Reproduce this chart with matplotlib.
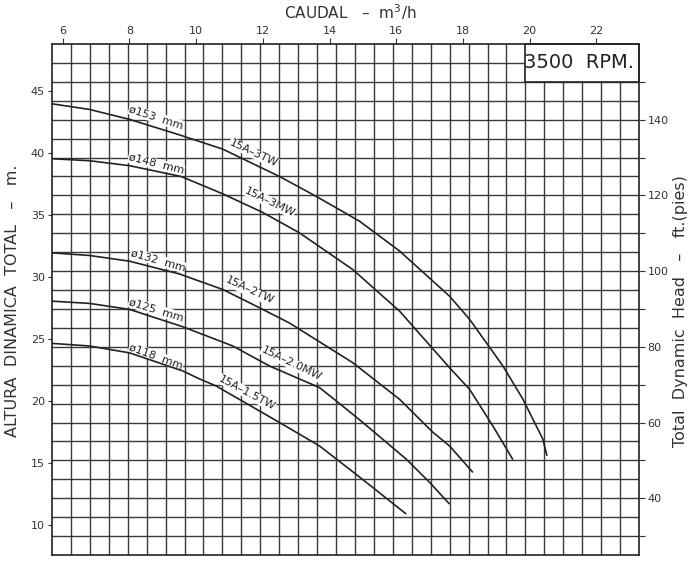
import numpy as np
import matplotlib
matplotlib.use("Agg")
import matplotlib.pyplot as plt
from matplotlib.patches import Rectangle

plt.rcParams['font.family'] = ['DejaVu Sans']

# pump curves: flow (m3/h) vs head (m)
q_153 = [5.68, 6.8, 8.0, 9.5, 10.8, 12.5, 13.6, 14.9, 16.1, 17.6, 18.2, 19.2, 19.8, 20.4, 20.52]
h_153 = [43.95, 43.5, 42.7, 41.45, 40.3, 38.1, 36.5, 34.5, 32.1, 28.46, 26.6, 22.84, 20.16, 16.94, 15.6]

q_148 = [5.68, 6.8, 8.0, 9.55, 10.8, 12.0, 13.1, 14.7, 16.1, 17.6, 18.2, 18.9, 19.5]
h_148 = [39.53, 39.37, 38.97, 38.1, 36.7, 35.2, 33.56, 30.6, 27.26, 22.7, 20.96, 18.0, 15.3]

q_132 = [5.68, 6.8, 8.0, 9.5, 10.8, 11.9, 12.8, 14.7, 16.1, 17.1, 17.6, 18.3]
h_132 = [31.95, 31.74, 31.28, 30.25, 29.0, 27.53, 26.3, 23.1, 20.16, 17.5, 16.4, 14.27]

q_125 = [5.68, 6.8, 8.0, 9.6, 11.1, 12.2, 13.7, 14.2, 15.0, 16.3, 17.0, 17.6]
h_125 = [28.06, 27.88, 27.4, 26.0, 24.45, 22.84, 21.1, 20.03, 18.29, 15.34, 13.47, 11.72]

q_118 = [5.68, 6.8, 8.0, 9.6, 10.1, 10.6, 12.5, 13.7, 14.9, 16.3]
h_118 = [24.66, 24.45, 23.9, 22.44, 21.8, 21.23, 18.29, 16.4, 13.9, 10.92]

curves = [(q_153, h_153), (q_148, h_148), (q_132, h_132), (q_125, h_125), (q_118, h_118)]

# labels: text, flow, head, angle
imp_labels = ['ø153  mm', 'ø148  mm', 'ø132  mm', 'ø125  mm', 'ø118  mm']
imp_pos = [(8.80, 42.85, -18), (8.80, 39.1, -14), (8.85, 31.35, -16),
           (8.80, 27.35, -17), (8.80, 23.6, -20)]
model_labels = ['15A–3TW', '15A–3MW', '15A–2TW', '15A–2.0MW', '15A–1.5TW']
model_pos = [(11.72, 40.0, -25), (12.2, 36.05, -26), (11.6, 28.9, -25),
             (12.85, 23.05, -26), (11.52, 20.7, -28)]

GPM = 0.2271247   # m3/h per US gpm
FT = 0.3048

fig = plt.figure(figsize=(6.93, 5.63), dpi=100)
ax = fig.add_axes([52/693, 1-555/563, 587/693, 511/563])
ax.set_xlim(25*GPM, 102.5*GPM)
ax.set_ylim(25*FT, 160*FT)

gc = '#3a3a3a'
for g in np.arange(27.5, 102.5, 2.5):
    ax.axvline(g*GPM, color=gc, lw=1.0, zorder=1)
for g in np.arange(30, 160, 5):
    ax.axhline(g*FT, color=gc, lw=1.0, zorder=1)

for q, h in curves:
    ax.plot(q, h, color='#222222', lw=1.2, zorder=3, solid_capstyle='butt')

box = dict(facecolor='white', edgecolor='none', pad=0.3)
for t, (x, y, r) in zip(imp_labels, imp_pos):
    ax.text(x, y, t, rotation=r, rotation_mode='anchor', ha='center', va='center',
            fontsize=8, color='#222222', bbox=box, zorder=2)
for t, (x, y, r) in zip(model_labels, model_pos):
    ax.text(x, y, t, rotation=r, rotation_mode='anchor', ha='center', va='center',
            fontsize=8, color='#222222', bbox=box, zorder=2)

# rpm box in the corner
ax.add_patch(Rectangle((87.5*GPM, 150*FT), 15*GPM, 10*FT, facecolor='white',
                       edgecolor='#222222', lw=1.2, zorder=5, clip_on=False))
ax.text(101.9*GPM, 155*FT, '3500  RPM.', ha='right', va='center',
        fontsize=14, color='#222222', zorder=6)

for s in ax.spines.values():
    s.set_color('#222222')
    s.set_linewidth(1.2)
    s.set_zorder(5)

ax.xaxis.tick_top()
ax.set_xticks(range(6, 23, 2))
ax.set_yticks(range(10, 46, 5))
ax.tick_params(axis='x', direction='out', length=4, width=0.8, colors='#333333',
               labelsize=8, pad=2)
ax.tick_params(axis='y', direction='out', length=3, width=0.8, colors='#333333',
               labelsize=8, pad=2)

ax2 = ax.twinx()
ax2.set_ylim(25, 160)
ax2.set_yticks(range(40, 141, 20))
ax2.set_yticks(range(30, 151, 20), minor=True)
ax2.tick_params(axis='y', which='both', direction='out', length=4, width=0.8,
                colors='#333333', labelsize=8, pad=2)
for s in ax2.spines.values():
    s.set_visible(False)

fig.text(0.505, 0.978, 'CAUDAL   –  m$^3$/h', ha='center', va='center',
         fontsize=11, color='#333333')
fig.text(0.018, 0.465, 'ALTURA  DINAMICA  TOTAL   –   m.', rotation=90,
         ha='center', va='center', fontsize=11.5, color='#333333')
fig.text(0.982, 0.447, 'Total  Dynamic  Head   –   ft.(pies)', rotation=90,
         ha='center', va='center', fontsize=11.5, color='#333333')

fig.savefig('out.png', dpi=100)
